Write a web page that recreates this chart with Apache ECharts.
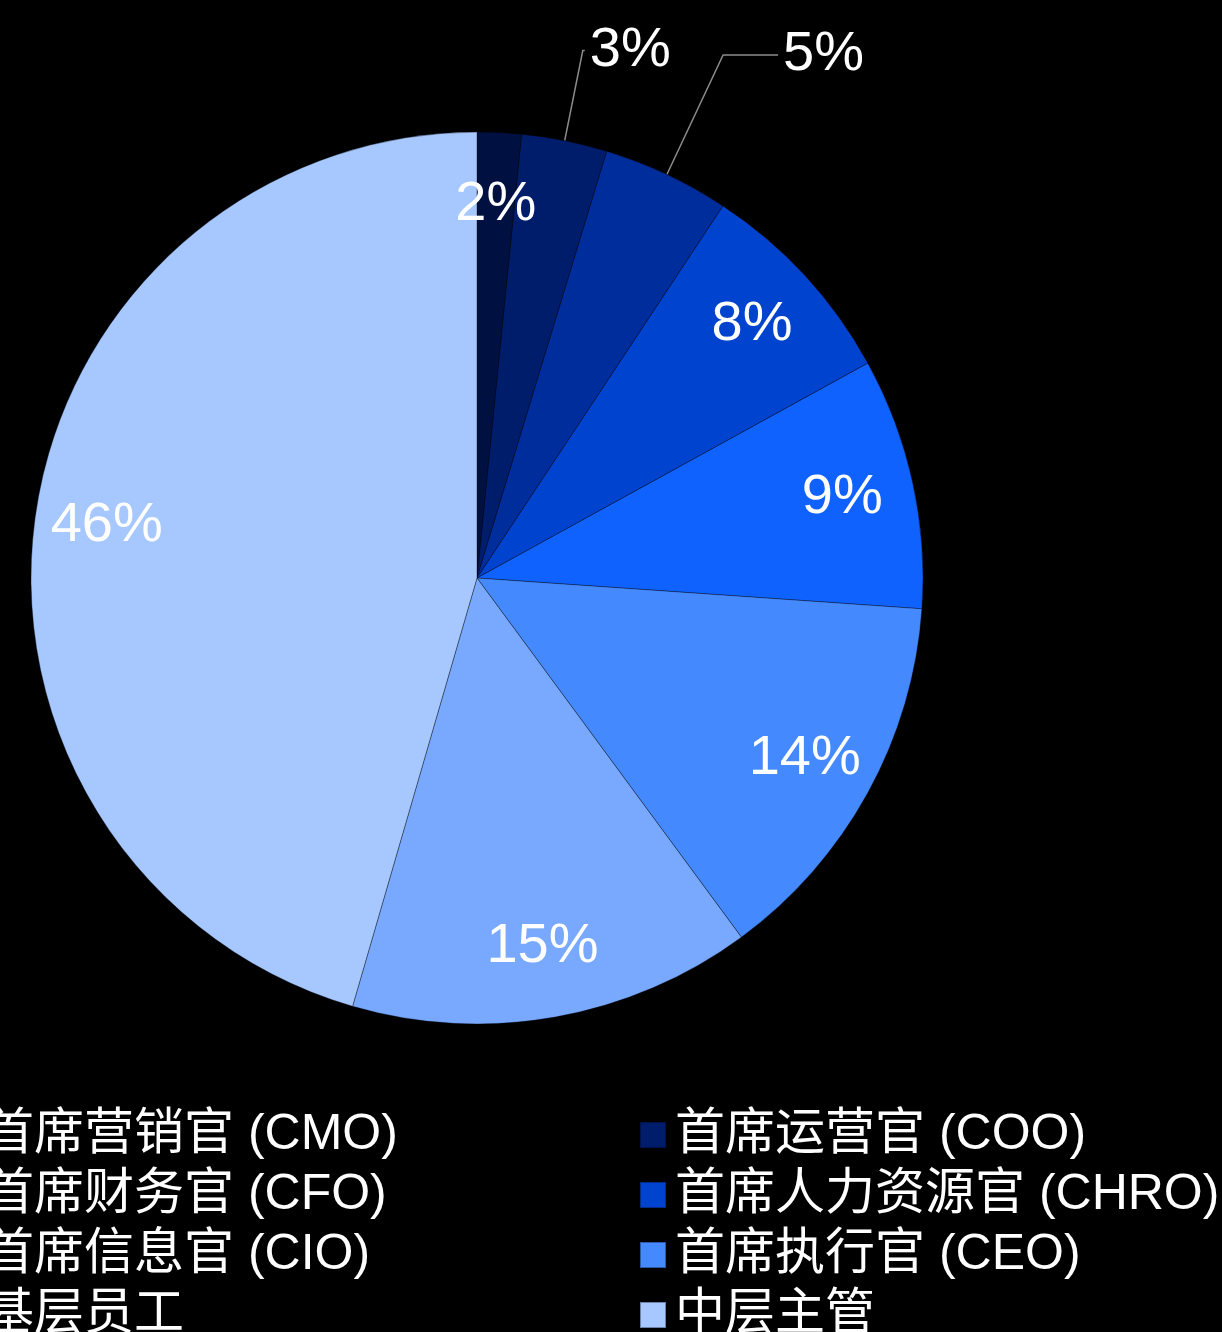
<!DOCTYPE html>
<html>
<head>
<meta charset="utf-8">
<script src="https://cdn.jsdelivr.net/npm/echarts@6/dist/echarts.min.js"></script>
<style>
html,body{margin:0;padding:0;background:#000;}
#chart{width:1222px;height:1332px;}
</style>
</head>
<body>
<div id="chart"></div>
<script>
const categories = ['首席营销官 (CMO)', '首席运营官 (COO)', '首席财务官 (CFO)', '首席人力资源官 (CHRO)', '首席信息官 (CIO)', '首席执行官 (CEO)', '基层员工', '中层主管'];
const values = [1.6, 3.1, 4.6, 7.7, 9.1, 13.8, 14.6, 45.5];
const colors = ['#001141', '#001d6c', '#002d9c', '#0043ce', '#0f62fe', '#4589ff', '#78a9ff', '#a6c8ff'];
const legendLeft = ['首席营销官 (CMO)', '首席财务官 (CFO)', '首席信息官 (CIO)', '基层员工'];
const legendRight = ['首席运营官 (COO)', '首席人力资源官 (CHRO)', '首席执行官 (CEO)', '中层主管'];
const outsideLabels = {'首席运营官 (COO)': [92, 2], '首席财务官 (CFO)': [132, 55]};

const FONT = '"Liberation Sans", Arial, "Noto Sans CJK SC", sans-serif';
const chart = echarts.init(document.getElementById('chart'), null, {renderer: 'canvas'});

const mainData = categories.map((c, i) => ({name: c, value: values[i], itemStyle: {color: colors[i]}}));
const labelData = categories.map((c, i) => {
  const d = {name: c, value: values[i]};
  if (outsideLabels[c]) {
    d.label = {position: 'outside'};
    d.labelLine = {show: true, length: outsideLabels[c][0], length2: outsideLabels[c][1]};
  }
  return d;
});

const legendCommon = {
  orient: 'vertical',
  top: 1105,
  height: 320,
  itemWidth: 26,
  itemHeight: 26,
  itemGap: 10,
  icon: 'rect',
  selectedMode: false,
  textStyle: {color: '#ffffff', fontSize: 50, lineHeight: 50, fontFamily: FONT, padding: [0, 0, 0, 4]}
};

chart.setOption({
  backgroundColor: '#000000',
  animation: false,
  legend: [
    Object.assign({}, legendCommon, {left: -57, data: legendLeft}),
    Object.assign({}, legendCommon, {left: 634, data: legendRight})
  ],
  series: [
    {
      type: 'pie',
      center: [477, 578],
      radius: [0, 446],
      startAngle: 90,
      clockwise: true,
      silent: true,
      label: {show: false},
      labelLine: {show: false},
      itemStyle: {borderColor: 'rgba(0,0,0,0.35)', borderWidth: 1},
      data: mainData
    },
    {
      type: 'pie',
      center: [477, 578],
      radius: [296, 446],
      startAngle: 90,
      clockwise: true,
      silent: true,
      itemStyle: {color: 'rgba(0,0,0,0)', borderWidth: 0},
      label: {
        show: true,
        position: 'inside',
        color: '#ffffff',
        fontSize: 56,
        fontFamily: FONT,
        formatter: p => Math.round(p.value) + '%'
      },
      labelLine: {show: false, lineStyle: {color: '#8c8c8c', width: 1.5}},
      avoidLabelOverlap: false,
      data: labelData
    }
  ]
});
</script>
</body>
</html>
